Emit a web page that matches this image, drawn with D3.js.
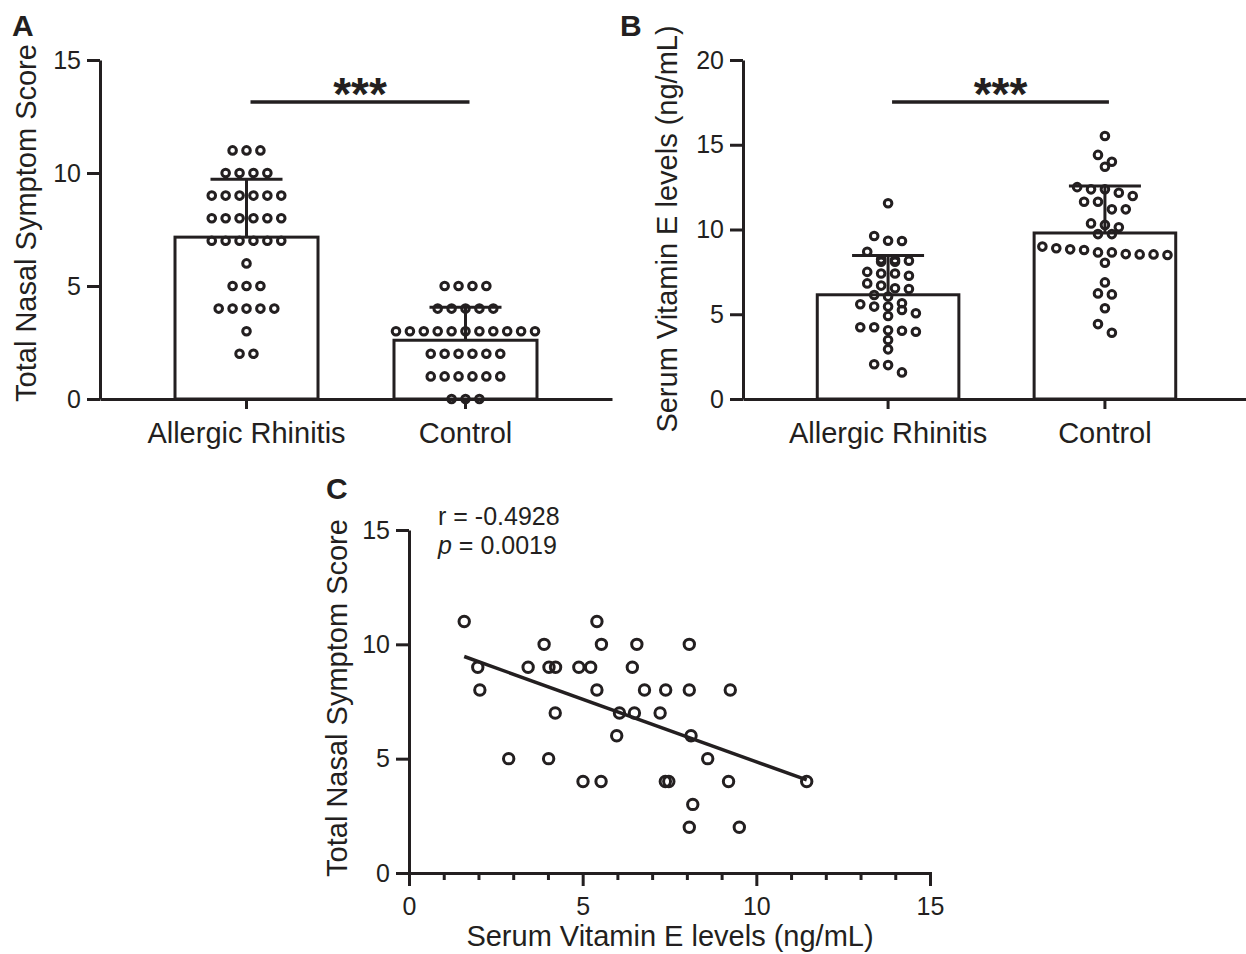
<!DOCTYPE html>
<html>
<head>
<meta charset="utf-8">
<script src="https://cdn.jsdelivr.net/npm/d3@7"></script>
<style>
  body { margin: 0; background: #fff; }
  svg text { font-family: "Liberation Sans", Arial, sans-serif; fill: #231f20; }
</style>
</head>
<body>
<svg id="svg" width="1246" height="954"></svg>
<script>
// ---- data ----
const groups = ['Allergic Rhinitis', 'Control'];

// A: total nasal symptom score per subject
const tnssAR = [11, 11, 11, 10, 10, 10, 10, 9, 9, 9, 9, 9, 9, 8, 8, 8, 8, 8, 8,
  7, 7, 7, 7, 7, 7, 6, 5, 5, 5, 4, 4, 4, 4, 4, 3, 2, 2];
const tnssControl = [5, 5, 5, 5, 4, 4, 4, 4, 4, 3, 3, 3, 3, 3, 3, 3, 3, 3, 3, 3,
  2, 2, 2, 2, 2, 2, 1, 1, 1, 1, 1, 1, 0, 0, 0];

// B: serum vitamin E (ng/mL) per subject
const vitEAR = [11.55, 9.62, 9.32, 9.34, 8.69, 8.1, 8.1, 8.2, 8.24, 8.16, 7.5, 7.4, 7.4, 7.27,
  6.82, 6.53, 6.69, 6.49, 6.14, 6.04, 5.45, 5.45, 4.9, 5.65, 5.06, 5.25, 5.59,
  4.03, 4.06, 3.97, 4.23, 4.23, 3.48, 2.93, 2.05, 2.0, 1.57];
const vitEControl = [15.52, 14.4, 13.7, 14.0, 12.37, 12.5, 12.17, 12.37, 11.98, 11.64, 11.64,
  11.19, 11.19, 10.36, 10.27, 10.13, 9.73, 9.73, 8.83, 8.55, 8.99, 8.5, 8.65, 8.89,
  8.53, 8.53, 8.65, 8.79, 8.04, 6.88, 6.23, 6.17, 5.35, 4.42, 3.91];

// C: correlation, vitamin E (x) vs TNSS (y)
const corrVitE = [1.59, 5.41, 3.89, 5.54, 6.56, 8.07, 1.98, 3.43, 4.03, 4.22, 4.89, 5.23, 6.43,
  2.04, 5.41, 6.78, 7.39, 8.07, 9.25, 4.21, 6.06, 6.49, 7.23, 5.98, 8.12, 2.87, 4.02, 8.6,
  5.01, 5.53, 7.38, 7.48, 9.2, 11.45, 8.17, 8.07, 9.51];
const corrTNSS = [11, 11, 10, 10, 10, 10, 9, 9, 9, 9, 9, 9, 9,
  8, 8, 8, 8, 8, 8, 7, 7, 7, 7, 6, 6, 5, 5, 5,
  4, 4, 4, 4, 4, 4, 3, 2, 2];
const corrR = '-0.4928';
const corrP = '0.0019';

const ink = '#231f20';
const svg = d3.select('#svg');

// GraphPad-like scatter: bin by pixel height, centre each bin as a row
const swarm = (values, y, cx, step, gap) => {
  const pts = values.map(v => ({ v, y: y(v) })).sort((a, b) => a.y - b.y);
  const bins = [];
  pts.forEach(p => {
    const last = bins[bins.length - 1];
    if (last && p.y - last[0].y <= gap) last.push(p); else bins.push([p]);
  });
  bins.forEach(bin => bin.forEach((p, i) => { p.x = cx + (i - (bin.length - 1) / 2) * step; }));
  return pts;
};

const styleAxis = (g, fontSize) => {
  g.attr('font-family', null).attr('font-size', null);
  g.select('.domain').attr('stroke', ink).attr('stroke-width', 3);
  g.selectAll('.tick line').attr('stroke', ink).attr('stroke-width', 3);
  g.selectAll('.tick text').style('font-size', fontSize + 'px').attr('fill', ink);
};

const barPanel = (cfg) => {
  const g = svg.append('g');
  const y = d3.scaleLinear().domain(cfg.yDomain).range([399, 60]);
  const x = d3.scaleBand().domain(groups).range(cfg.xRange)
    .paddingInner(0.347).paddingOuter(0.3425);

  g.append('g').attr('transform', `translate(${cfg.xRange[0]},0)`)
    .call(d3.axisLeft(y).tickValues(cfg.yTicks).tickSize(13).tickSizeOuter(0).tickPadding(6))
    .call(a => styleAxis(a, 25));

  // bars (mean) with SD whisker upwards
  cfg.series.forEach((vals, i) => {
    const cat = groups[i];
    const mean = d3.mean(vals);
    const sd = d3.deviation(vals);
    g.append('rect')
      .attr('x', x(cat)).attr('y', y(mean))
      .attr('width', x.bandwidth()).attr('height', y(0) - y(mean))
      .attr('fill', 'none').attr('stroke', ink).attr('stroke-width', 3);
    const cx = x(cat) + x.bandwidth() / 2;
    g.append('line').attr('x1', cx).attr('x2', cx).attr('y1', y(mean)).attr('y2', y(mean + sd))
      .attr('stroke', ink).attr('stroke-width', 3);
    g.append('line').attr('x1', cx - 36).attr('x2', cx + 36).attr('y1', y(mean + sd)).attr('y2', y(mean + sd))
      .attr('stroke', ink).attr('stroke-width', 3);

    g.selectAll(null).data(swarm(vals, y, cx, 13.9, 9)).enter().append('circle')
      .attr('cx', d => d.x).attr('cy', d => d.y).attr('r', 3.8)
      .attr('fill', 'none').attr('stroke', ink).attr('stroke-width', 3);
  });

  g.append('g').attr('transform', 'translate(0,399)')
    .call(d3.axisBottom(x).tickSize(10).tickSizeOuter(0).tickPadding(13))
    .call(a => styleAxis(a, 29));

  // significance bracket
  const c0 = x(groups[0]) + x.bandwidth() / 2 + 4;
  const c1 = x(groups[1]) + x.bandwidth() / 2 + 4;
  g.append('line').attr('x1', c0).attr('x2', c1).attr('y1', 102).attr('y2', 102)
    .attr('stroke', ink).attr('stroke-width', 3.5);
  g.append('text').attr('x', (c0 + c1) / 2).attr('y', 110).attr('text-anchor', 'middle')
    .style('font-size', '46px').style('font-weight', 'bold').text('***');

  g.append('text').attr('transform', `translate(${cfg.titleX},${cfg.titleY}) rotate(-90)`)
    .attr('text-anchor', 'middle').style('font-size', '29px').text(cfg.title);
  g.append('text').attr('x', cfg.letterX).attr('y', 36)
    .style('font-size', '30px').style('font-weight', 'bold').text(cfg.letter);
};

barPanel({
  series: [tnssAR, tnssControl], yDomain: [0, 15], yTicks: [0, 5, 10, 15],
  xRange: [100, 612], title: 'Total Nasal Symptom Score', titleX: 36, titleY: 223,
  letter: 'A', letterX: 12
});
barPanel({
  series: [vitEAR, vitEControl], yDomain: [0, 20], yTicks: [0, 5, 10, 15, 20],
  xRange: [743, 1250], title: 'Serum Vitamin E levels (ng/mL)', titleX: 677, titleY: 229,
  letter: 'B', letterX: 620
});

// ---- panel C ----
const gc = svg.append('g');
const xC = d3.scaleLinear().domain([0, 15]).range([409, 930]);
const yC = d3.scaleLinear().domain([0, 15]).range([873, 530]);

gc.append('g').attr('transform', 'translate(409,0)')
  .call(d3.axisLeft(yC).tickValues([0, 5, 10, 15]).tickSize(13).tickSizeOuter(0).tickPadding(6))
  .call(a => styleAxis(a, 25));
gc.append('g').attr('transform', 'translate(0,873)')
  .call(d3.axisBottom(xC).tickValues(d3.range(0, 16).filter(v => v % 5)).tickSize(7).tickFormat(''))
  .call(a => styleAxis(a, 25));
gc.append('g').attr('transform', 'translate(0,873)')
  .call(d3.axisBottom(xC).tickValues([0, 5, 10, 15]).tickSize(13).tickSizeOuter(0).tickPadding(11))
  .call(a => styleAxis(a, 25));

const pairs = corrVitE.map((v, i) => ({ x: v, y: corrTNSS[i] }));
const mx = d3.mean(pairs, d => d.x), my = d3.mean(pairs, d => d.y);
const slope = d3.sum(pairs, d => (d.x - mx) * (d.y - my)) / d3.sum(pairs, d => (d.x - mx) ** 2);
const [xMin, xMax] = d3.extent(pairs, d => d.x);
const fit = [xMin, xMax].map(v => ({ x: v, y: my + slope * (v - mx) }));

gc.selectAll(null).data(pairs).enter().append('circle')
  .attr('cx', d => xC(d.x)).attr('cy', d => yC(d.y)).attr('r', 5.2)
  .attr('fill', 'none').attr('stroke', ink).attr('stroke-width', 3);

gc.append('path')
  .attr('d', d3.line().x(d => xC(d.x)).y(d => yC(d.y))(fit))
  .attr('fill', 'none').attr('stroke', ink).attr('stroke-width', 3.5);

gc.append('text').attr('x', 438).attr('y', 525).style('font-size', '25px').text(`r = ${corrR}`);
const pt = gc.append('text').attr('x', 438).attr('y', 554).style('font-size', '25px');
pt.append('tspan').style('font-style', 'italic').text('p');
pt.append('tspan').text(` = ${corrP}`);

gc.append('text').attr('transform', 'translate(347,698) rotate(-90)')
  .attr('text-anchor', 'middle').style('font-size', '29px').text('Total Nasal Symptom Score');
gc.append('text').attr('x', 670).attr('y', 946).attr('text-anchor', 'middle')
  .style('font-size', '29px').text('Serum Vitamin E levels (ng/mL)');
gc.append('text').attr('x', 326).attr('y', 499)
  .style('font-size', '30px').style('font-weight', 'bold').text('C');
</script>
</body>
</html>
